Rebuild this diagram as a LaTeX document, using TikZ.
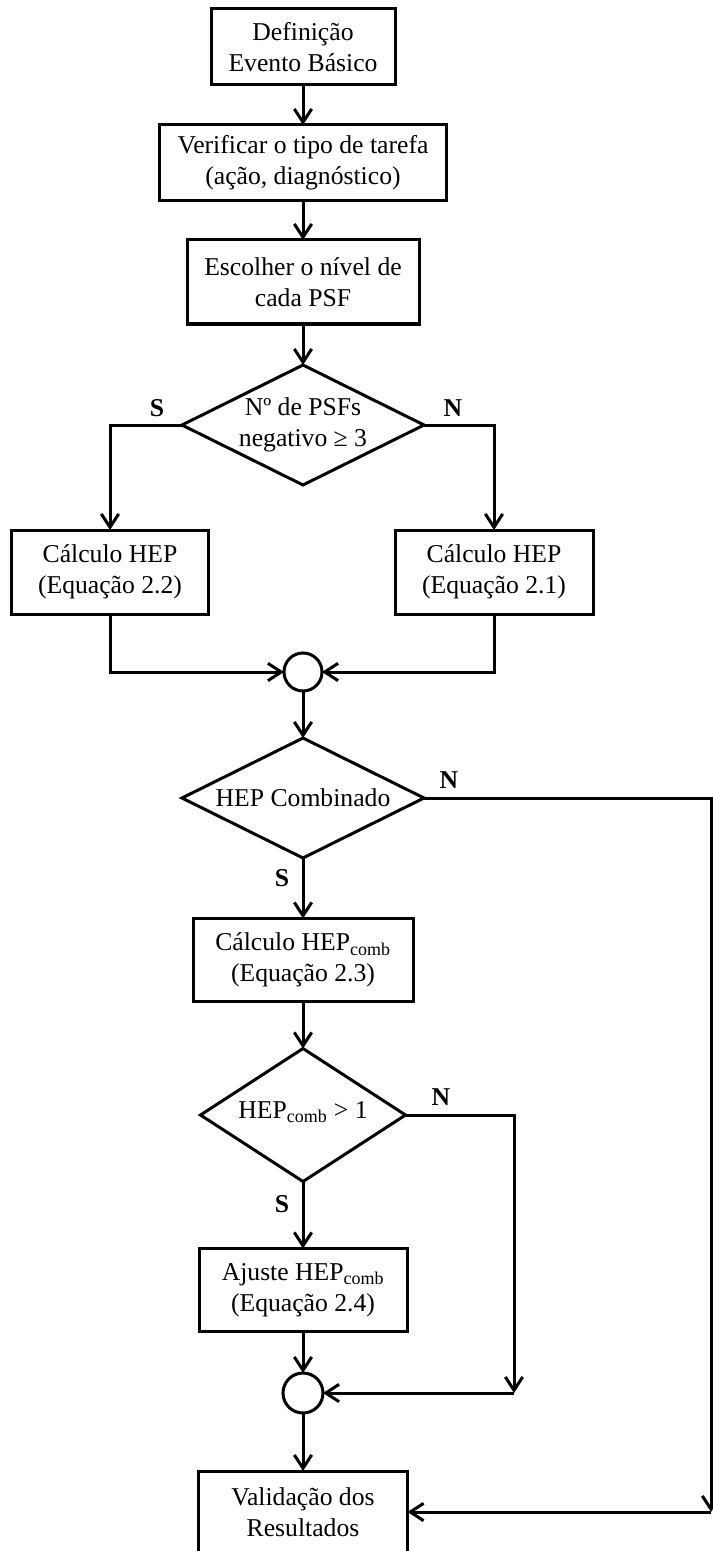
\documentclass[tikz,border=0pt]{standalone}
\usepackage{fontspec}
\setmainfont{Liberation Serif}
\usetikzlibrary{shapes.geometric,arrows.meta}
\begin{document}
\begin{tikzpicture}[x=0.75pt,y=-0.75pt,
  font=\fontsize{19.25}{23}\selectfont,
  every node/.style={inner sep=0pt, outer sep=0pt},
  proc/.style={draw, line width=2.25pt, align=center},
  decis/.style={draw, diamond, line width=2.25pt, inner sep=0pt},
  junc/.style={draw, circle, line width=2.25pt},
  txt/.style={align=center},
  lbl/.style={font=\fontsize{19.25}{23}\selectfont\bfseries},
  arr/.style={line width=2.25pt, -{Straight Barb[length=10pt,width=13pt]}}]

\useasboundingbox (0,0) rectangle (713,1551);

% process boxes
\node[proc, minimum width=138pt, minimum height=57pt] (b1) at (303,47) {Definição\\Evento Básico};
\node[proc, minimum width=215.25pt, minimum height=57pt] (b2) at (303,163) {Verificar o tipo de tarefa\\(ação, diagnóstico)};
\node[proc, minimum width=174pt, minimum height=63pt] (b3) at (303,282) {Escolher o nível de\\cada PSF};

% first decision
\node[decis, minimum width=181.5pt, minimum height=90pt] (d1) at (303,425) {};
\node[txt] (d1t) at (303,425) {Nº de PSFs\\negativo ≥ 3};

\node[proc, minimum width=147.75pt, minimum height=63pt] (hl) at (110,572) {Cálculo HEP\\(Equação 2.2)};
\node[proc, minimum width=148.5pt, minimum height=63pt] (hr) at (494,572) {Cálculo HEP\\(Equação 2.1)};

\node[junc, minimum size=28.5pt] (c1) at (303,672) {};

% combined HEP decision
\node[decis, minimum width=181.5pt, minimum height=90pt] (d2) at (303,798) {};
\node[txt] (d2t) at (303,798) {HEP Combinado};

\node[proc, minimum width=165pt, minimum height=62.25pt] (hc) at (303,960) {Cálculo HEP\textsubscript{comb}\\(Equação 2.3)};

\node[decis, minimum width=153.75pt, minimum height=99.75pt] (d3) at (303,1115) {};
\node[txt] (d3t) at (303,1112) {HEP\textsubscript{comb} > 1};

\node[proc, minimum width=156pt, minimum height=62.25pt] (ha) at (303,1290) {Ajuste HEP\textsubscript{comb}\\(Equação 2.4)};

\node[junc, minimum size=30pt] (c2) at (303,1393) {};

\node[proc, minimum width=156.75pt, minimum height=61.5pt] (val) at (303,1512) {Validação dos\\Resultados};

% bend points of the bypass lines
\coordinate (k1) at (711,1512);
\coordinate (k2) at (514,1393);

% connectors
\draw[arr] (b1.south) -- (b2.north);
\draw[arr] (b2.south) -- (b3.north);
\draw[arr] (b3.south) -- (d1.north);
\draw[arr] (d1.west) -| (hl.north);
\draw[arr] (d1.east) -| (hr.north);
\draw[arr] (hl.south) |- (c1.west);
\draw[arr] (hr.south) |- (c1.east);
\draw[arr] (c1.south) -- (d2.north);
\draw[arr] (d2.south) -- (hc.north);
\draw[arr] (hc.south) -- (d3.north);
\draw[arr] (d3.south) -- (ha.north);
\draw[arr] (ha.south) -- (c2.north);
\draw[arr] (c2.south) -- (val.north);
\draw[arr] (d2.east) -| (k1);
\draw[arr] (k1) -- (val.east);
\draw[arr] (d3.east) -| (k2);
\draw[arr] (k2) -- (c2.east);

% branch labels
\node[lbl] (s1) at (157,408) {S};
\node[lbl] (n1) at (453,408) {N};
\node[lbl] (n2) at (449,780) {N};
\node[lbl] (s2) at (282,878) {S};
\node[lbl] (n3) at (441,1097) {N};
\node[lbl] (s3) at (282,1204) {S};
\end{tikzpicture}
\end{document}
